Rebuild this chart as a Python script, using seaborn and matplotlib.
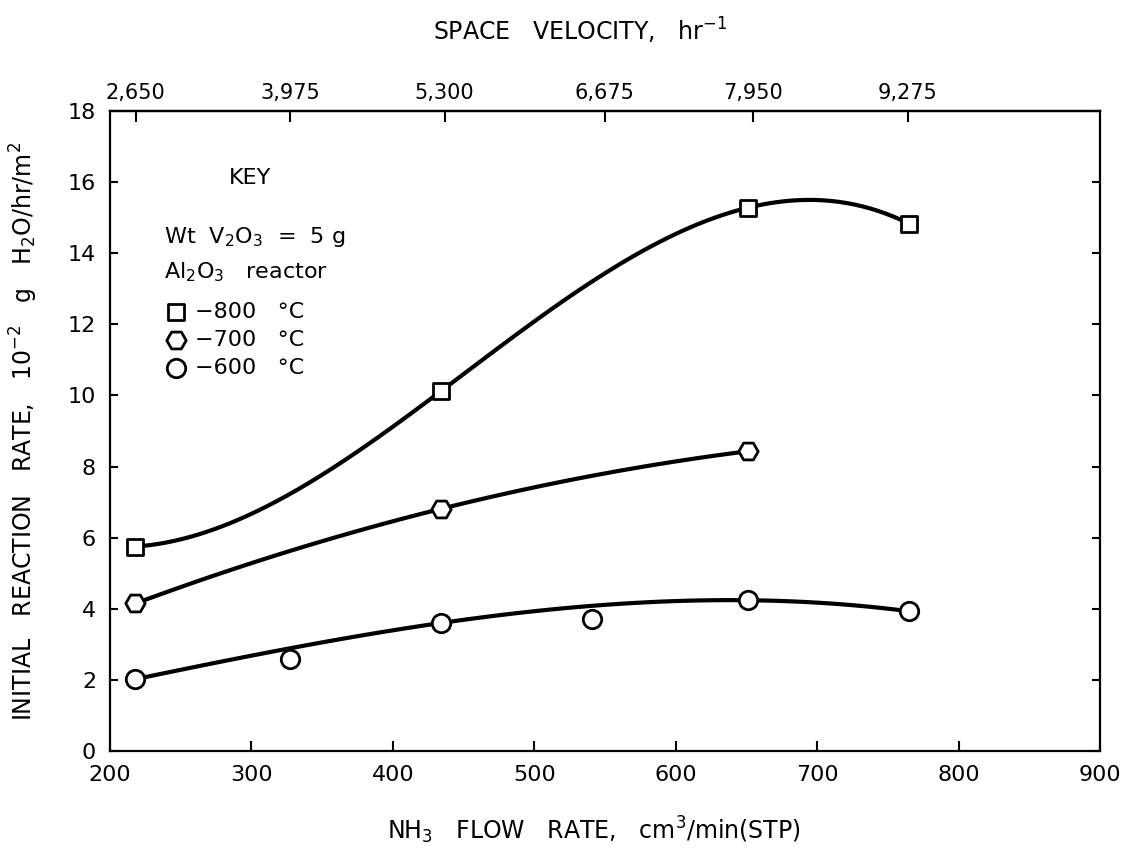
import numpy as np
import matplotlib
matplotlib.use("Agg")
import matplotlib.pyplot as plt
import seaborn as sns

# NH3 flow rate (cm3/min, STP) and initial reaction rate (10^-2 g H2O/hr/m2)
flow_800 = [218, 434, 651, 765]
rate_800 = [5.75, 10.12, 15.28, 14.83]

flow_700 = [218, 434, 651]
rate_700 = [4.15, 6.81, 8.43]

flow_600 = [218, 327, 434, 541, 651, 765]
rate_600 = [2.02, 2.59, 3.60, 3.72, 4.24, 3.93]
# points the 600 °C curve is drawn through
curve_600 = [0, 2, 4, 5]

series_labels = ["\u2212800   °C", "\u2212700   °C", "\u2212600   °C"]

x_ticks = [200, 300, 400, 500, 600, 700, 800, 900]
y_ticks = [0, 2, 4, 6, 8, 10, 12, 14, 16, 18]
sv_ticks = [2650, 3975, 5300, 6675, 7950, 9275]
sv_labels = ["2,650", "3,975", "5,300", "6,675", "7,950", "9,275"]
SV_PER_FLOW = 12.14  # space velocity (hr^-1) per unit NH3 flow

sns.set_style("white")
plt.rcParams["font.family"] = ["DejaVu Sans"]
plt.rcParams["mathtext.fontset"] = "dejavusans"
for key in ["text.color", "axes.labelcolor", "xtick.color", "ytick.color",
            "axes.edgecolor"]:
    plt.rcParams[key] = "black"

fig = plt.figure(figsize=(11.27, 8.48), dpi=100)
ax = fig.add_axes([0.0976, 0.1144, 0.8784, 0.7547])

line_kws = dict(color="black", linewidth=3.0, solid_capstyle="round")

# smooth curves through the measured points
sns.regplot(x=np.array(flow_800), y=np.array(rate_800), order=3, ci=None,
            scatter=False, truncate=True, line_kws=line_kws, ax=ax)
sns.regplot(x=np.array(flow_700), y=np.array(rate_700), order=2, ci=None,
            scatter=False, truncate=True, line_kws=line_kws, ax=ax)
sns.regplot(x=np.array(flow_600)[curve_600], y=np.array(rate_600)[curve_600],
            order=3, ci=None, scatter=False, truncate=True,
            line_kws=line_kws, ax=ax)

marker_kws = dict(facecolor="white", edgecolor="black", linewidth=2.0,
                  zorder=4, ax=ax)
sns.scatterplot(x=flow_800, y=rate_800, marker="s", s=121,
                label=series_labels[0], **marker_kws)
sns.scatterplot(x=flow_700, y=rate_700, marker="H", s=196,
                label=series_labels[1], **marker_kws)
sns.scatterplot(x=flow_600, y=rate_600, marker="o", s=176,
                label=series_labels[2], **marker_kws)

ax.set_xlim(200, 900)
ax.set_ylim(0, 18)
ax.set_xticks(x_ticks)
ax.set_yticks(y_ticks)

for side in ["left", "right", "top", "bottom"]:
    ax.spines[side].set_visible(True)
    ax.spines[side].set_linewidth(1.6)
    ax.spines[side].set_color("black")

ax.tick_params(axis="x", direction="in", length=7, width=1.5,
               pad=10, labelsize=16, bottom=True, top=False)
ax.tick_params(axis="y", direction="in", length=6, width=1.5,
               pad=10, labelsize=16, left=True, right=True, labelright=False)

# space velocity scale along the top
sec = ax.secondary_xaxis("top", functions=(lambda f: f * SV_PER_FLOW,
                                           lambda s: s / SV_PER_FLOW))
sec.set_xticks(sv_ticks)
sec.set_xticklabels(sv_labels)
sec.tick_params(direction="in", length=8, width=1.5, pad=6, labelsize=15)
sec.spines["top"].set_linewidth(1.6)
sec.set_xlabel("SPACE   VELOCITY,   hr$^{-1}$", fontsize=17, labelpad=30)
sec.xaxis.label.set_x(0.475)

ax.set_xlabel("NH$_3$   FLOW   RATE,   cm$^3$/min(STP)", fontsize=17)
ax.xaxis.set_label_coords(0.489, -0.10)
ax.set_ylabel("INITIAL   REACTION   RATE,   10$^{-2}$   g   H$_2$O/hr/m$^2$",
              fontsize=17)
ax.yaxis.set_label_coords(-0.071, 0.50)

# key
ax.text(0.141, 0.895, "KEY", transform=ax.transAxes, ha="center",
        va="center", fontsize=16)
ax.text(0.055, 0.803, "Wt  V$_2$O$_3$  =  5 g", transform=ax.transAxes,
        ha="left", va="center", fontsize=16)
ax.text(0.055, 0.748, "Al$_2$O$_3$   reactor", transform=ax.transAxes,
        ha="left", va="center", fontsize=16)
ax.legend(loc="upper left", bbox_to_anchor=(0.0556, 0.702), frameon=False,
          borderpad=0, borderaxespad=0, handlelength=1.0, handletextpad=0.36,
          labelspacing=0.36, fontsize=16, scatterpoints=1)

fig.savefig("out.png", dpi=100)
